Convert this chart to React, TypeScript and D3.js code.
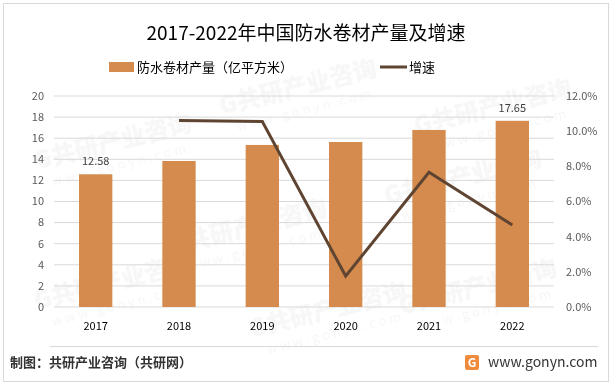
import { useEffect, useRef } from "react";
import * as d3 from "d3";

const years = ["2017", "2018", "2019", "2020", "2021", "2022"];
const output = [12.58, 13.84, 15.36, 15.64, 16.78, 17.65];
const growth = [null, 0.106, 0.1055, 0.0176, 0.0766, 0.0466];
const leftTicks = [0, 2, 4, 6, 8, 10, 12, 14, 16, 18, 20];
const rightTicks = [0, 0.02, 0.04, 0.06, 0.08, 0.1, 0.12];
const labelled = ["2017", "2022"];

const W = 612;
const H = 386;
const FONT = "'Noto Sans CJK SC', 'Noto Sans', sans-serif";
const BAR = "#d48b4d";
const LINE = "#5e4431";

// faint watermark spots (decoration only)
const marks = [
  [115, 150], [300, 95], [250, 235], [465, 185], [330, 318], [495, 115], [115, 290], [480, 295],
];

const App = () => {
  const svgRef = useRef(null);

  useEffect(() => {
    const svg = d3.select(svgRef.current);
    svg.selectAll("*").remove();

    svg.append("rect").attr("width", W).attr("height", H).attr("fill", "#fff");
    svg.append("rect")
      .attr("x", 3.5).attr("y", 3.5)
      .attr("width", W - 7).attr("height", H - 8)
      .attr("fill", "none").attr("stroke", "#d9d9d9");

    // watermark
    const wm = svg.append("g").attr("opacity", 0.45);
    marks.forEach(([x, y]) => {
      const g = wm.append("g").attr("transform", `translate(${x},${y}) rotate(-14)`);
      g.append("text").text("G共研产业咨询")
        .attr("font-family", FONT).attr("font-weight", 900)
        .attr("font-size", 24).attr("fill", "#ececec").attr("text-anchor", "middle");
      g.append("text").text("w w w . g o n y n . c o m").attr("y", 20)
        .attr("font-family", FONT).attr("font-size", 13)
        .attr("fill", "#ececec").attr("text-anchor", "middle");
    });

    const x = d3.scaleBand().domain(years).range([54, 554]);
    const y = d3.scaleLinear().domain([0, 20]).range([307, 96]);
    const y2 = d3.scaleLinear().domain([0, 0.12]).range([307, 96]);
    const bw = x.bandwidth() * 0.4;

    // title
    svg.append("text")
      .attr("x", 306).attr("y", 40)
      .attr("text-anchor", "middle")
      .attr("font-family", FONT).attr("font-size", 19)
      .attr("fill", "#000")
      .text("2017-2022年中国防水卷材产量及增速");

    // legend
    svg.append("rect").attr("x", 109).attr("y", 62).attr("width", 25).attr("height", 10).attr("fill", BAR);
    svg.append("text").attr("x", 137).attr("y", 72)
      .attr("font-family", FONT).attr("font-size", 13).attr("fill", "#000")
      .text("防水卷材产量（亿平方米）");
    svg.append("line").attr("x1", 380).attr("x2", 407).attr("y1", 67).attr("y2", 67)
      .attr("stroke", LINE).attr("stroke-width", 3);
    svg.append("text").attr("x", 409).attr("y", 72)
      .attr("font-family", FONT).attr("font-size", 13).attr("fill", "#000")
      .text("增速");

    // grid
    svg.append("g")
      .selectAll("line")
      .data(leftTicks)
      .join("line")
      .attr("x1", 54).attr("x2", 554)
      .attr("y1", d => y(d)).attr("y2", d => y(d))
      .attr("stroke", "#d9d9d9").attr("stroke-width", 1);

    // left axis labels
    svg.append("g")
      .selectAll("text")
      .data(leftTicks)
      .join("text")
      .attr("x", 44).attr("y", d => y(d))
      .attr("dy", "0.35em")
      .attr("text-anchor", "end")
      .attr("font-family", FONT).attr("font-size", 11).attr("fill", "#595959")
      .text(d => d);

    // right axis labels
    svg.append("g")
      .selectAll("text")
      .data(rightTicks)
      .join("text")
      .attr("x", 566).attr("y", d => y2(d))
      .attr("dy", "0.35em")
      .attr("font-family", FONT).attr("font-size", 11).attr("fill", "#595959")
      .text(d => d3.format(".1%")(d));

    // bars
    svg.append("g")
      .selectAll("rect")
      .data(output)
      .join("rect")
      .attr("x", (d, i) => x(years[i]) + x.bandwidth() / 2 - bw / 2)
      .attr("y", d => y(d))
      .attr("width", bw)
      .attr("height", d => y(0) - y(d))
      .attr("fill", BAR);

    // data labels
    svg.append("g")
      .selectAll("text")
      .data(output.map((v, i) => ({ v, yr: years[i] })).filter(d => labelled.includes(d.yr)))
      .join("text")
      .attr("x", d => x(d.yr) + x.bandwidth() / 2)
      .attr("y", d => y(d.v) - 9)
      .attr("text-anchor", "middle")
      .attr("font-family", FONT).attr("font-size", 11).attr("fill", "#404040")
      .text(d => d.v.toFixed(2));

    // x labels
    svg.append("g")
      .selectAll("text")
      .data(years)
      .join("text")
      .attr("x", d => x(d) + x.bandwidth() / 2)
      .attr("y", 330)
      .attr("text-anchor", "middle")
      .attr("font-family", FONT).attr("font-size", 11).attr("fill", "#000")
      .text(d => d);

    // growth line
    const pts = growth.map((g, i) => ({ g, yr: years[i] })).filter(d => d.g !== null);
    const line = d3.line()
      .x(d => x(d.yr) + x.bandwidth() / 2)
      .y(d => y2(d.g));
    svg.append("path")
      .attr("d", line(pts))
      .attr("fill", "none")
      .attr("stroke", LINE)
      .attr("stroke-width", 3)
      .attr("stroke-linejoin", "miter");

    // footer
    svg.append("line").attr("x1", 50).attr("x2", 598).attr("y1", 346.5).attr("y2", 346.5)
      .attr("stroke", "#d9d9d9");
    svg.append("text").attr("x", 10).attr("y", 367)
      .attr("font-family", FONT).attr("font-size", 13).attr("font-weight", 700).attr("fill", "#333")
      .text("制图：共研产业咨询（共研网）");

    const logo = svg.append("g").attr("transform", "translate(465,355)");
    logo.append("rect").attr("width", 14).attr("height", 15).attr("rx", 2).attr("fill", "#f08a3c");
    logo.append("text").attr("x", 7).attr("y", 12).attr("text-anchor", "middle")
      .attr("font-family", FONT).attr("font-size", 12).attr("font-weight", 700).attr("fill", "#fff")
      .text("G");
    svg.append("text").attr("x", 488).attr("y", 367)
      .attr("font-family", FONT).attr("font-size", 14).attr("fill", "#333")
      .text("www.gonyn.com");
  }, []);

  return (
    <svg ref={svgRef} width={W} height={H} style={{ position: "absolute", left: 0, top: 0 }}></svg>
  );
};

export default App;
